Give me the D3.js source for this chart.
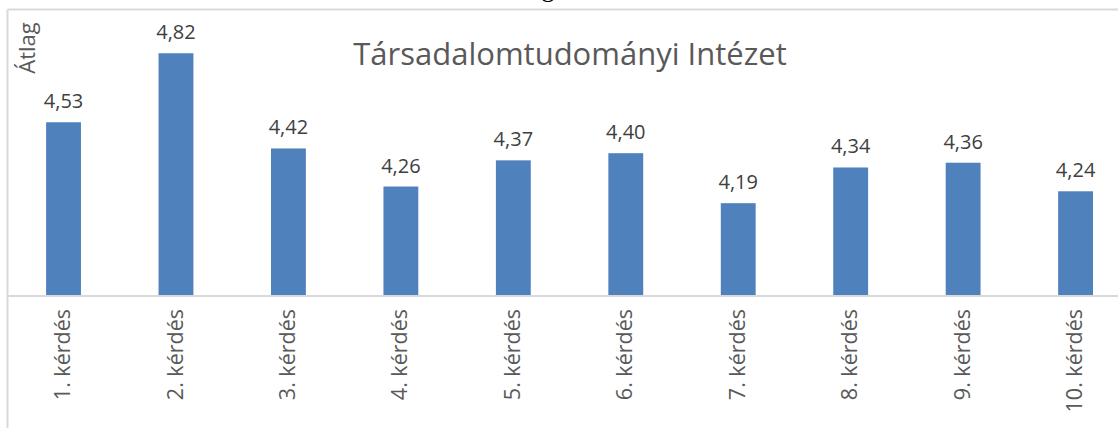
<!DOCTYPE html>
<html>
<head>
<meta charset="utf-8">
<script src="https://cdn.jsdelivr.net/npm/d3@7"></script>
<style>
  body { margin: 0; background: #fff; }
  svg { display: block; font-family: "Open Sans", sans-serif; }
</style>
</head>
<body>
<svg id="chart" width="1118" height="428"></svg>
<script>
// data
let categories = ["1. kérdés", "2. kérdés", "3. kérdés", "4. kérdés", "5. kérdés",
                  "6. kérdés", "7. kérdés", "8. kérdés", "9. kérdés", "10. kérdés"];
let averages = [4.53, 4.82, 4.42, 4.26, 4.37, 4.40, 4.19, 4.34, 4.36, 4.24];
let chartTitle = "Társadalomtudományi Intézet";
let yLabel = "Átlag";

function drawChart() {
    var svg = d3.select("#chart");
    let grey = "#d9d9d9";
    let text = "#595959";

    // chart frame (cut by the screenshot on top and right)
    svg.append("line").attr("x1", 7.5).attr("x2", 1118).attr("y1", 9.5).attr("y2", 9.5)
        .attr("stroke", grey).attr("stroke-width", 2);
    svg.append("line").attr("x1", 7.5).attr("x2", 7.5).attr("y1", 9.5).attr("y2", 428)
        .attr("stroke", grey).attr("stroke-width", 2);

    // heading above the frame, only its descender shows
    svg.append("text").attr("x", 548).attr("y", -3).attr("text-anchor", "middle")
        .style("font-family", "Liberation Serif").style("font-size", "26px")
        .attr("fill", "#000").text("g");

    let x = d3.scaleBand().domain(categories).range([7.3, 1131.8]).paddingInner(0.69).paddingOuter(0.345);
    let y = d3.scaleLinear().domain([3.8, 5.0]).range([296, 10.4]);

    svg.append("g").selectAll("rect").data(averages).join("rect")
        .attr("x", (d, i) => x(categories[i]))
        .attr("width", x.bandwidth())
        .attr("y", d => y(d))
        .attr("height", d => y(3.8) - y(d))
        .attr("fill", "#4f81bd");

    svg.append("g").selectAll("text").data(averages).join("text")
        .attr("x", (d, i) => x(categories[i]) + x.bandwidth() / 2)
        .attr("y", d => y(d) - 14)
        .attr("text-anchor", "middle")
        .attr("fill", "#404040")
        .style("font-size", "20px")
        .text(d => d.toFixed(2).replace(".", ","));

    // category axis
    let axis = svg.append("g").attr("transform", "translate(0,296)")
        .call(d3.axisBottom(x).tickSize(0).tickPadding(0));
    axis.select(".domain").attr("stroke", grey).attr("stroke-width", 2).attr("d", "M7.5,0H1118");
    axis.selectAll("text")
        .attr("transform", "translate(-1,13) rotate(-90)")
        .attr("dy", "0.35em").attr("x", 0).attr("y", 0)
        .attr("text-anchor", "end")
        .attr("fill", text)
        .style("font-family", "Open Sans")
        .style("font-size", "21.5px");

    svg.append("text").attr("transform", "translate(35,48) rotate(-90)")
        .attr("text-anchor", "middle").attr("fill", text)
        .style("font-size", "22px").text(yLabel);

    svg.append("text").attr("x", 570).attr("y", 65).attr("text-anchor", "middle")
        .attr("fill", text).style("font-size", "31px").text(chartTitle);
}

drawChart();
</script>
</body>
</html>
